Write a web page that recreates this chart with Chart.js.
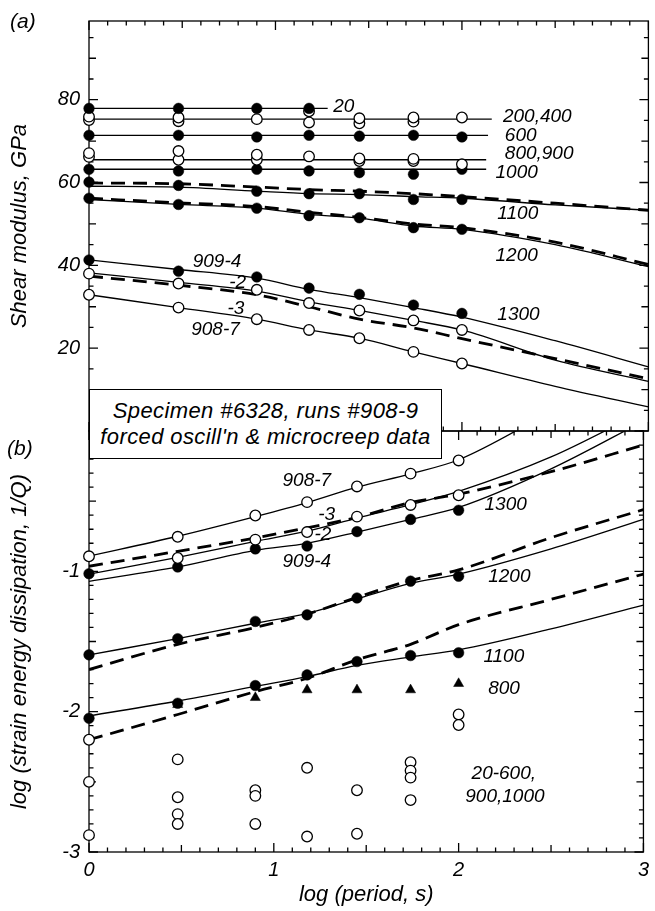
<!DOCTYPE html>
<html>
<head>
<meta charset="utf-8">
<script src="https://cdn.jsdelivr.net/npm/chart.js@4.4.1/dist/chart.umd.min.js"></script>
<style>
  body { margin: 0; background: #fff; }
  #wrap { position: relative; width: 655px; height: 911px; overflow: hidden; }
  canvas { position: absolute; left: 0; top: 0; }
  .tag { position: absolute; font: italic 21px "Liberation Sans", Arial, sans-serif; color: #000; }
  #box {
    position: absolute; left: 89px; top: 389px; width: 353px; height: 70px;
    box-sizing: border-box; border: 1.3px solid #000; background: #fff;
    display: flex; flex-direction: column; justify-content: center; align-items: center;
    font: italic 22px "Liberation Sans", Arial, sans-serif; line-height: 26px; color: #000;
    letter-spacing: 0.4px;
  }
</style>
</head>
<body>
<div id="wrap">
  <canvas id="panelA" width="655" height="911"></canvas>
  <canvas id="panelB" width="655" height="911"></canvas>
  <div class="tag" style="left:10px;top:9px">(a)</div>
  <div class="tag" style="left:7px;top:436px">(b)</div>
  <div id="box"><div>Specimen #6328, runs #908-9</div><div>forced oscill'n &amp; microcreep data</div></div>
</div>
<script>
// log period of the measurements, and of the model curves
const periods = [0, 0.48, 0.9, 1.18, 1.45, 1.74, 2.0];
const fitX = [0, 0.48, 0.9, 1.18, 1.45, 1.74, 2.0, 2.5, 3.0];

// (a) shear modulus, GPa
const g20 = [77.9, 77.9, 77.9, 77.9];
const g200a = [75.9, 75.7, 75.3, 77.2, 75.5, 75.7, 75.7];
const g200b = [75.1, 74.8, null, 74.5, 74.3, 74.7, null];
const g600 = [71.4, 71.4, 71.0, 71.4, 71.2, 71.4, 71.0];
const g800a = [67.1, 67.6, 66.7, 66.3, 65.8, 65.7, 64.4];
const g800b = [66.2, 65.5, 65.5, null, 65.2, 65.2, null];
const g1000 = [63.2, 62.8, 63.2, 62.8, 62.4, 62.0, 63.2];
const g1100 = [60.1, 59.3, 57.9, 57.3, 57.3, 55.9, 55.9];
const g1200 = [56.2, 54.7, 53.8, 52.0, 51.5, 49.1, 48.7];
const g909_4 = [41.3, 38.6, 37.2, 34.5, 33.0, 30.4, 28.4];
const g909_2 = [38.0, 35.6, 34.1, 30.9, 29.1, 26.7, 24.4];
const g908_7 = [32.9, 29.8, 27.0, 24.4, 22.4, 19.1, 16.3];
// flat model lines: level, last log period
const flatLevel = [77.9, 75.3, 71.4, 65.5, 63.2];
const flatEnd = [1.28, 2.16, 2.14, 2.13, 2.13];

const fitA1100 = [59.1, 58.9, 57.9, 57.3, 57.1, 56.6, 56.2, 54.6, 53.3];
const dashA1100 = [59.9, 59.7, 58.9, 58.3, 57.9, 57.3, 56.6, 55.0, 53.3];
const fitA1200 = [55.9, 54.7, 53.8, 52.3, 51.4, 49.5, 48.7, 45.0, 39.7];
const dashA1200 = [56.2, 55.1, 54.2, 52.8, 51.6, 50.0, 49.1, 45.6, 40.2];
const fitA909_4 = [41.3, 39.0, 36.9, 34.2, 32.2, 29.8, 27.5, 21.8, 15.5];
const fitA909_2 = [38.2, 35.9, 33.8, 31.2, 29.1, 26.7, 24.4, 17.1, 12.0];
const dashA909_3 = [37.4, 35.2, 32.9, 30.0, 27.0, 24.9, 22.3, 17.5, 12.6];
const fitA908_7 = [32.9, 29.8, 27.0, 24.4, 22.4, 19.1, 16.3, 10.8, 5.8];

// (b) log(1/Q)
const q908_7 = [-0.893, -0.754, -0.602, -0.507, -0.395, -0.304, -0.21];
const q909_2 = [null, -0.905, -0.774, -0.72, -0.61, -0.527, -0.458];
const q909_4 = [-1.017, -0.969, -0.84, -0.82, -0.717, -0.63, -0.565];
const q1200 = [-1.595, -1.48, -1.357, -1.31, -1.19, -1.07, -1.035];
const q1100 = [-2.047, -1.94, -1.814, -1.738, -1.643, -1.60, -1.58];
const q800 = [null, -1.95, -1.9, -1.845, -1.845, -1.845, -1.80];
const lowX = [0, 0, 0, 0.48, 0.48, 0.48, 0.48, 0.9, 0.9, 0.9, 1.18, 1.18, 1.45, 1.45, 1.74, 1.74, 1.74, 1.74, 2.0, 2.0];
const lowQ = [-2.2, -2.5, -2.88, -2.34, -2.61, -2.73, -2.80, -2.56, -2.6, -2.8, -2.40, -2.89, -2.56, -2.87, -2.36, -2.42, -2.47, -2.63, -2.02, -2.095];

const fitB908_7 = [-0.893, -0.75, -0.61, -0.51, -0.40, -0.305, -0.205, 0.14, 0.5];
const fitB909_2 = [-1.02, -0.90, -0.786, -0.714, -0.62, -0.525, -0.43, -0.185, 0.14];
const fitB909_4 = [-1.071, -0.969, -0.85, -0.80, -0.72, -0.63, -0.545, -0.27, 0.07];
const dashB909_3 = [-0.964, -0.857, -0.762, -0.69, -0.615, -0.51, -0.45, -0.29, -0.10];
const fitB1200 = [-1.595, -1.48, -1.37, -1.30, -1.195, -1.085, -1.02, -0.84, -0.63];
const dashB1200 = [-1.70, -1.52, -1.40, -1.305, -1.185, -1.065, -0.99, -0.76, -0.56];
const fitB1100 = [-2.03, -1.924, -1.82, -1.75, -1.67, -1.61, -1.56, -1.41, -1.24];
const dashB1100 = [-2.20, -2.02, -1.857, -1.762, -1.63, -1.52, -1.38, -1.20, -1.02];

// curve labels: text, log period, value
const notesA = [
  ['20', 1.31, 78.4], ['200,400', 2.22, 75.8], ['600', 2.23, 71.4], ['800,900', 2.23, 66.9],
  ['1000', 2.18, 62.4], ['1100', 2.19, 52.5], ['1200', 2.18, 42.3], ['1300', 2.19, 28.0],
  ['909-4', 0.556, 40.8], ['-2', 0.752, 35.7], ['-3', 0.743, 29.6], ['908-7', 0.548, 24.5]
];
const notesB = [
  ['908-7', 1.047, -0.352], ['-3', 1.24, -0.595], ['-2', 1.22, -0.738], ['909-4', 1.047, -0.931],
  ['1300', 2.14, -0.524], ['1200', 2.16, -1.036], ['1100', 2.134, -1.607], ['800', 2.16, -1.833],
  ['20-600,', 2.07, -2.44], ['900,1000', 2.036, -2.607]
];

const FONT = '"Liberation Sans", Arial, sans-serif';
Chart.defaults.font.family = FONT;
Chart.defaults.color = '#000';

const pts = (xs, ys) => xs.map((x, i) => ({ x: x, y: ys[i] })).filter(p => p.y != null);

function dots(xs, ys, kind) {
  return {
    data: pts(xs, ys),
    showLine: false,
    clip: false,
    pointStyle: kind === 'tri' ? 'triangle' : 'circle',
    pointRadius: kind === 'tri' ? 5.8 : 5.3,
    pointBackgroundColor: kind === 'open' ? '#fff' : '#000',
    pointBorderColor: '#000',
    pointBorderWidth: kind === 'open' ? 1.3 : 0.5
  };
}

function curve(xs, ys, dashed) {
  return {
    data: pts(xs, ys),
    showLine: true,
    pointRadius: 0,
    borderColor: '#000',
    borderWidth: dashed ? 2.8 : 1.3,
    borderDash: dashed ? [14, 8] : [],
    cubicInterpolationMode: 'monotone'
  };
}

// frame with inward ticks on all four sides
const frame = {
  id: 'frame',
  beforeDatasetsDraw(chart, args, opts) {
    const { ctx, chartArea: a, scales: { x, y } } = chart;
    ctx.save();
    ctx.strokeStyle = '#000';
    ctx.lineWidth = 1.3;
    ctx.strokeRect(a.left, a.top, a.right - a.left, a.bottom - a.top);
    ctx.beginPath();
    for (let i = 0; i <= 30; i++) {
      const px = x.getPixelForValue(i / 10);
      const len = i % 10 === 0 ? 9 : i % 5 === 0 ? 7 : 4.5;
      ctx.moveTo(px, a.bottom); ctx.lineTo(px, a.bottom - len);
      ctx.moveTo(px, a.top); ctx.lineTo(px, a.top + len);
    }
    const n = Math.floor((y.max - y.min) / opts.step + 1e-6);
    for (let i = 0; i <= n; i++) {
      const py = y.getPixelForValue(y.min + i * opts.step);
      const len = i % opts.major === 0 ? 9 : i % opts.mid === 0 ? 7 : 4.5;
      ctx.moveTo(a.left, py); ctx.lineTo(a.left + len, py);
      ctx.moveTo(a.right, py); ctx.lineTo(a.right - len, py);
    }
    ctx.stroke();
    ctx.restore();
  }
};

const notes = {
  id: 'notes',
  afterDatasetsDraw(chart, args, opts) {
    const { ctx, scales: { x, y } } = chart;
    ctx.save();
    ctx.font = 'italic 19px ' + FONT;
    ctx.fillStyle = '#000';
    ctx.textAlign = 'left';
    ctx.textBaseline = 'middle';
    opts.list.forEach(([t, vx, vy]) => ctx.fillText(t, x.getPixelForValue(vx), y.getPixelForValue(vy)));
    ctx.restore();
  }
};

const tickFont = { size: 20, style: 'italic', family: FONT };
const titleFont = { size: 22, style: 'italic', family: FONT };

function panel(id, datasets, yOpts, topPad, xHeight, showX, step, major, mid, list) {
  return new Chart(document.getElementById(id), {
    type: 'scatter',
    data: { datasets: datasets },
    options: {
      responsive: false,
      animation: false,
      events: [],
      layout: { padding: { top: topPad, right: 5, left: 0, bottom: 0 } },
      plugins: {
        legend: { display: false },
        tooltip: { enabled: false },
        frame: { step: step, major: major, mid: mid },
        notes: { list: list }
      },
      scales: {
        x: {
          type: 'linear', min: 0, max: 3,
          grid: { display: false, drawTicks: false },
          border: { display: false },
          ticks: { display: showX, stepSize: 1, font: tickFont, padding: 6, maxRotation: 0, autoSkip: false },
          title: { display: showX, text: 'log (period, s)', font: titleFont, padding: { top: 2, bottom: 3 } },
          afterFit: s => { s.height = xHeight; }
        },
        y: Object.assign({
          type: 'linear',
          grid: { display: false, drawTicks: false },
          border: { display: false },
          afterFit: s => { s.width = 89; }
        }, yOpts)
      }
    },
    plugins: [frame, notes]
  });
}

const flatSets = flatLevel.map((v, i) => curve([0, flatEnd[i]], [v, v], false));

panel('panelA', [
  dots(periods, g20, 'fill'),
  dots(periods, g200a, 'open'), dots(periods, g200b, 'open'),
  dots(periods, g600, 'fill'),
  dots(periods, g800a, 'open'), dots(periods, g800b, 'open'),
  dots(periods, g1000, 'fill'),
  dots(periods, g1100, 'fill'),
  dots(periods, g1200, 'fill'),
  dots(periods, g909_4, 'fill'),
  dots(periods, g909_2, 'open'),
  dots(periods, g908_7, 'open'),
  ...flatSets,
  curve(fitX, fitA1100, false), curve(fitX, dashA1100, true),
  curve(fitX, fitA1200, false), curve(fitX, dashA1200, true),
  curve(fitX, fitA909_4, false), curve(fitX, fitA909_2, false),
  curve(fitX, dashA909_3, true), curve(fitX, fitA908_7, false)
], {
  min: 0, max: 99,
  ticks: { stepSize: 20, includeBounds: false, font: tickFont, padding: 9, callback: v => (v === 0 ? '' : v) },
  title: { display: true, text: 'Shear modulus, GPa', font: titleFont, padding: { top: 7, bottom: 0 } }
}, 9, 480, false, 5, 4, 2, notesA);

panel('panelB', [
  dots(periods, q908_7, 'open'),
  dots(periods, q909_2, 'open'),
  dots(periods, q909_4, 'fill'),
  dots(periods, q1200, 'fill'),
  dots(periods, q1100, 'fill'),
  dots(periods, q800, 'tri'),
  dots(lowX, lowQ, 'open'),
  curve(fitX, fitB908_7, false), curve(fitX, fitB909_2, false),
  curve(fitX, fitB909_4, false), curve(fitX, dashB909_3, true),
  curve(fitX, fitB1200, false), curve(fitX, dashB1200, true),
  curve(fitX, fitB1100, false), curve(fitX, dashB1100, true)
], {
  min: -3, max: 0,
  ticks: { stepSize: 1, includeBounds: false, font: tickFont, padding: 9, callback: v => (v === 0 ? '' : v) },
  title: { display: true, text: 'log (strain energy dissipation, 1/Q)', font: titleFont, padding: { top: 7, bottom: 0 } }
}, 431, 59, true, 0.1, 10, 5, notesB);
</script>
</body>
</html>
